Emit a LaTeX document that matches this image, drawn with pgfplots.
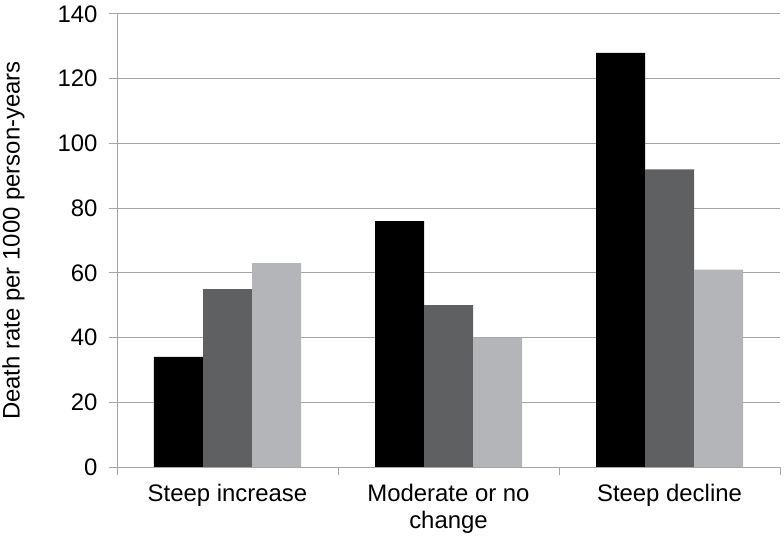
\documentclass[border=0pt]{standalone}
\usepackage{fontspec}
\setmainfont{Liberation Sans}
\usepackage{pgfplots}
\pgfplotsset{compat=1.18}
\definecolor{dg}{RGB}{95,96,98}
\definecolor{lg}{RGB}{180,181,184}
\definecolor{gridc}{RGB}{165,165,165}
\begin{document}
\begin{tikzpicture}
\path[use as bounding box] (0,0) rectangle (784bp,540bp);
\begin{axis}[
  at={(117bp,73bp)}, anchor=south west,
  scale only axis, width=663bp, height=453bp,
  xmin=-0.5, xmax=2.5, ymin=0, ymax=140,
  ybar=0pt, bar width=49bp,
  axis x line*=bottom, axis y line*=left,
  axis line style={gridc, line width=1bp, -},
  ymajorgrids, grid style={gridc, line width=1bp},
  ytick={0,20,...,140},
  yticklabel style={xshift=-8bp},
  xtick={0,1,2},
  xticklabels={Steep increase, {Moderate or no\\change}, Steep decline},
  xticklabel style={align=center, yshift=-6bp},
  x tick style={draw=none},
  extra x ticks={-0.5,0.5,1.5,2.5}, extra x tick labels={},
  extra x tick style={grid=none, x tick style={draw=gridc, line width=1bp}, tick align=outside, major tick length=8bp},
  y tick style={gridc, line width=1bp},
  ytick align=outside, major tick length=8bp,
  ylabel={Death rate per 1000 person-years},
  ylabel style={at={(axis description cs:-0.156,0.5)}, anchor=center},
  font=\fontsize{24}{27}\selectfont,
  /pgf/number format/assume math mode=true,
]
\addplot[fill=black, draw=none] coordinates {(0,34) (1,76) (2,128)};
\addplot[fill=dg, draw=none] coordinates {(0,55) (1,50) (2,92)};
\addplot[fill=lg, draw=none] coordinates {(0,63) (1,40) (2,61)};
\end{axis}
\end{tikzpicture}
\end{document}
